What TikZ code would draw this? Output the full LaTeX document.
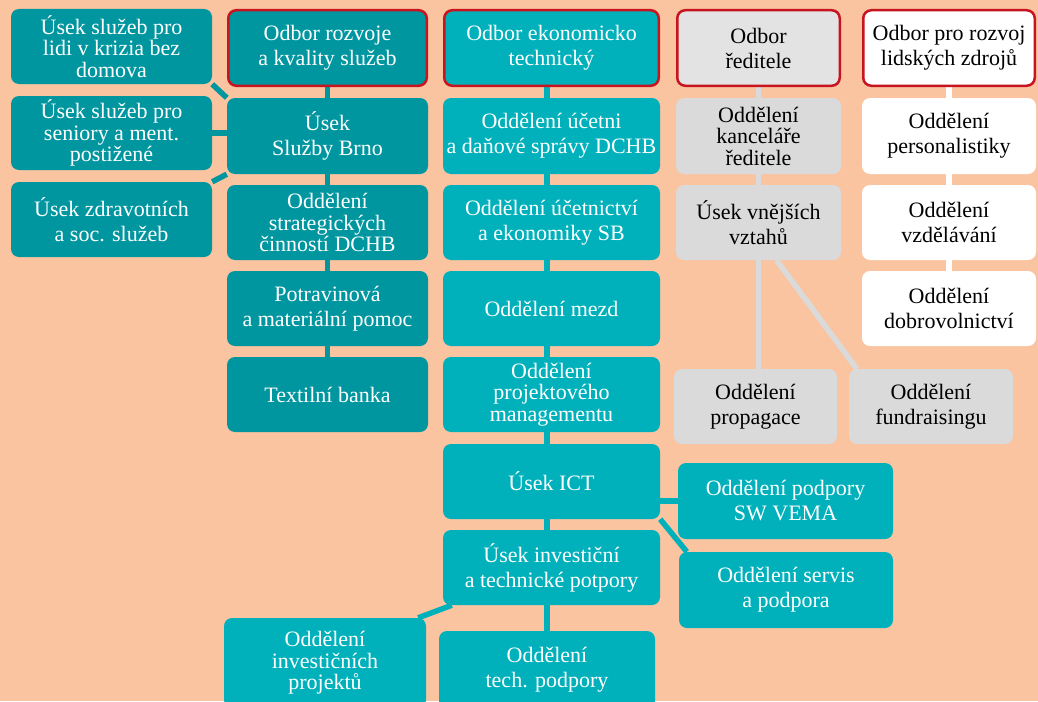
\documentclass[tikz,border=0pt]{standalone}
\usepackage{fontspec}
\setmainfont{Liberation Serif}
\usetikzlibrary{backgrounds,calc}
\definecolor{bgpeach}{RGB}{250,196,160}
\definecolor{tealdark}{RGB}{0,150,160}
\definecolor{teallight}{RGB}{0,177,187}
\definecolor{boxgrey}{RGB}{218,218,218}
\definecolor{headgrey}{RGB}{227,227,227}
\definecolor{headred}{RGB}{200,20,30}
\begin{document}
\begin{tikzpicture}[x=1pt,y=-1pt,
  box/.style={rounded corners=8pt, inner sep=1pt, align=center, font=\fontsize{22}{25}\selectfont},
  three/.style={font=\fontsize{22}{21.5}\selectfont},
  sz/.style 2 args={minimum width=#1pt, minimum height=#2pt},
  darkbox/.style={box, fill=tealdark, text=white},
  lightbox/.style={box, fill=teallight, text=white},
  greybox/.style={box, fill=boxgrey, text=black},
  whitebox/.style={box, fill=white, text=black},
  head/.style={draw=headred, line width=2.5pt},
  conn/.style={line width=5.5pt}
]
\useasboundingbox (0,0) rectangle (1038,701);
\begin{pgfonlayer}{background}
\fill[bgpeach] (0,0) rectangle (1038,701);
\end{pgfonlayer}

% left column
\node[darkbox, sz={201}{75}, three] (L1) at (111.5,46.5) {Úsek služeb pro\\lidi v krizia bez\\domova};
\node[darkbox, sz={201}{74}, three] (L2) at (111.5,133) {Úsek služeb pro\\seniory a ment.\\postižené};
\node[darkbox, sz={201}{75}] (L3) at (111.5,219.5) {Úsek zdravotních\\a soc. služeb};

% column 1
\node[darkbox, head, sz={198.5}{75.5}] (C1) at (327.5,48) {Odbor rozvoje\\a kvality služeb};
\node[darkbox, sz={201}{76}] (C2) at (327.5,136) {Úsek\\Služby Brno};
\node[darkbox, sz={201}{75}, three] (C3) at (327.5,222.5) {Oddělení\\strategických\\činností DCHB};
\node[darkbox, sz={201}{75}] (C4) at (327.5,308.5) {Potravinová\\a materiální pomoc};
\node[darkbox, sz={201}{75}] (C5) at (327.5,394.5) {Textilní banka};

% column 2
\node[lightbox, head, sz={214.5}{75.5}] (E1) at (551.5,48) {Odbor ekonomicko\\technický};
\node[lightbox, sz={217}{76}] (E2) at (551.5,136) {Oddělení účetni\\a daňové správy DCHB};
\node[lightbox, sz={217}{75}] (E3) at (551.5,222.5) {Oddělení účetnictví\\a ekonomiky SB};
\node[lightbox, sz={217}{75}] (E4) at (551.5,308.5) {Oddělení mezd};
\node[lightbox, sz={217}{75}, three] (E5) at (551.5,394.5) {Oddělení\\projektového\\managementu};
\node[lightbox, sz={217}{75}] (E6) at (551.5,481.5) {Úsek ICT};
\node[lightbox, sz={217}{75}] (E7) at (551.5,567.5) {Úsek investiční\\a technické potpory};
\node[lightbox, sz={216}{78}] (E8) at (547,670) {Oddělení\\tech. podpory};
\node[lightbox, sz={202}{90}, three] (E9) at (325,663) {Oddělení\\investičních\\projektů};

% ICT children
\node[lightbox, sz={215}{76}] (I1) at (785.5,501) {Oddělení podpory\\SW VEMA};
\node[lightbox, sz={214}{76}] (I2) at (786,590) {Oddělení servis\\a podpora};

% column 3
\node[box, fill=headgrey, head, sz={162.5}{75.5}] (G1) at (758.5,48) {Odbor\\ředitele};
\node[greybox, sz={165}{76}, three] (G2) at (758.5,136) {Oddělení\\kanceláře\\ředitele};
\node[greybox, sz={165}{75}] (G3) at (758.5,222.5) {Úsek vnějších\\vztahů};
\node[greybox, sz={163}{75}] (G4) at (755.5,406.5) {Oddělení\\propagace};
\node[greybox, sz={164}{75}] (G5) at (931,406.5) {Oddělení\\fundraisingu};

% column 4
\node[whitebox, head, sz={171.5}{75.5}] (W1) at (949,48) {Odbor pro rozvoj\\lidských zdrojů};
\node[whitebox, sz={174}{76}] (W2) at (949,136) {Oddělení\\personalistiky};
\node[whitebox, sz={174}{75}] (W3) at (949,222.5) {Oddělení\\vzdělávání};
\node[whitebox, sz={174}{75}] (W4) at (949,308.5) {Oddělení\\dobrovolnictví};

\begin{pgfonlayer}{background}
\draw[conn, tealdark] (C1.center) -- (C5.center);
\draw[conn, tealdark] (L1.south east) -- (C2.north west);
\draw[conn, tealdark] (L2.east) -- (L2.east -| C2.west);
\draw[conn, tealdark] (L3.north east) -- (C2.south west);
\draw[conn, teallight] (E8.center |- E1.center) -- (E8.center);
\draw[conn, teallight] ([xshift=9pt]E7.south west) -- ([xshift=-8pt]E9.north east);
\draw[conn, teallight] (I1.west) -- (I1.west -| E6.east);
\draw[conn, teallight] (E6.south east) -- ([xshift=8pt]I2.north west);
\draw[conn, boxgrey] (G1.center) -- (G1.center |- G4.north);
\draw[conn, boxgrey] ([xshift=18pt]G3.south) -- ([xshift=8pt]G5.north west);
\draw[conn, white] (W1.center) -- (W4.center);
\end{pgfonlayer}
\end{tikzpicture}
\end{document}
